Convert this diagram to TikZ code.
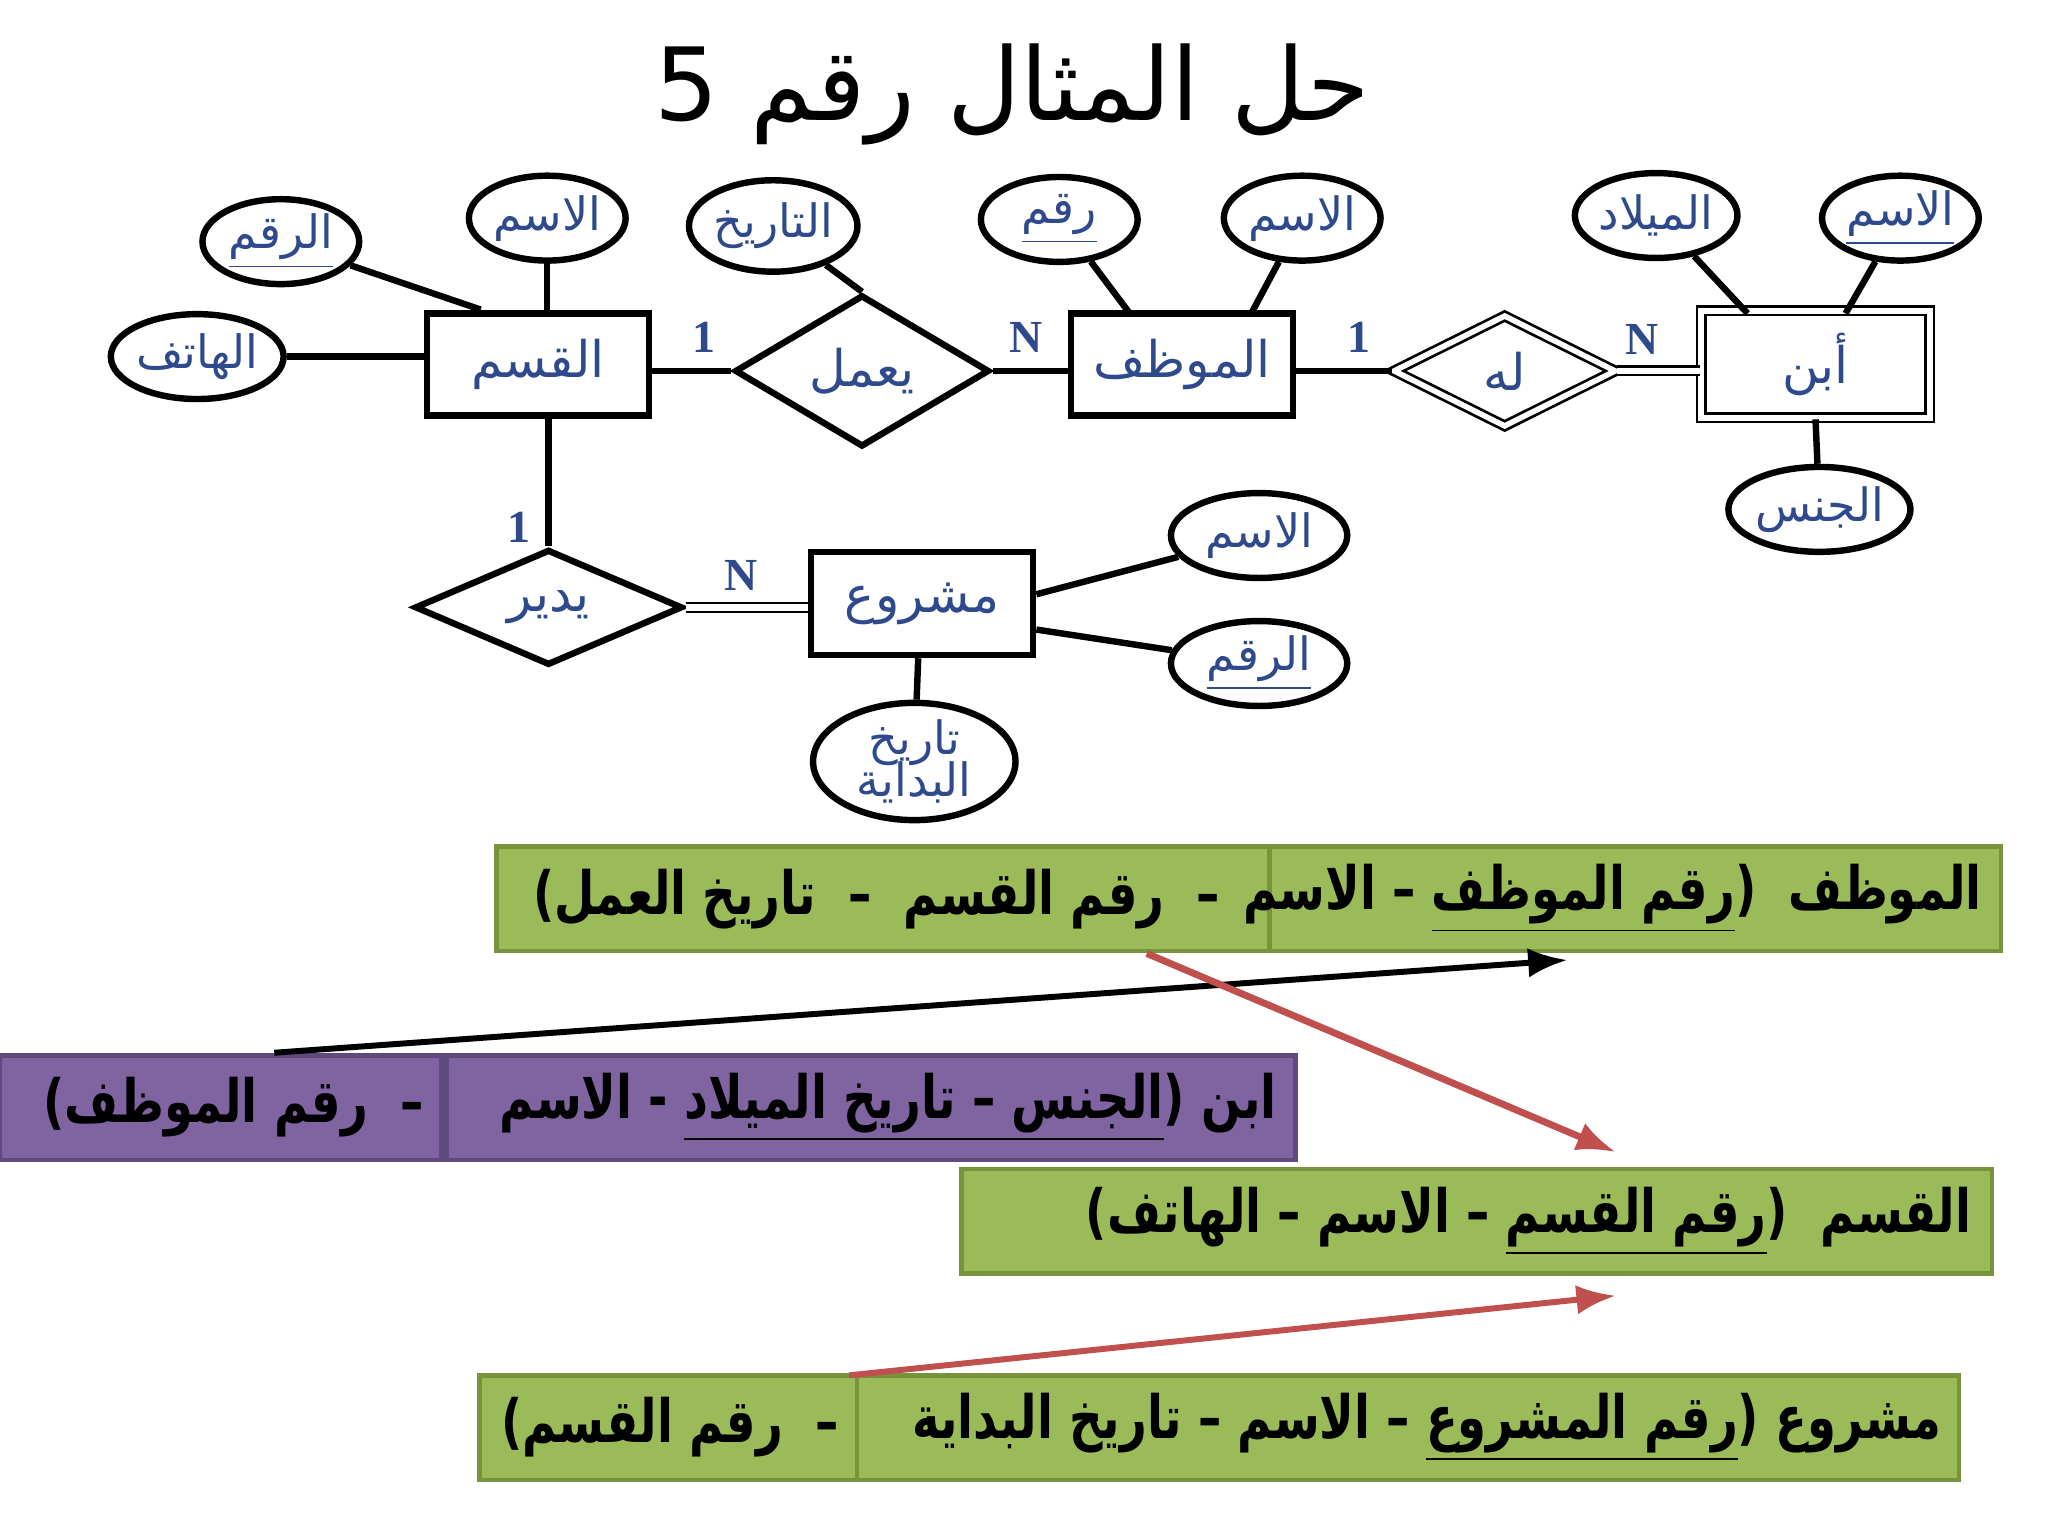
\documentclass[tikz,border=0pt]{standalone}
\usepackage{fontspec}
\usetikzlibrary{shapes.geometric,arrows.meta}
\TeXXeTstate=1
\newfontfamily\ar[Script=Arabic]{DejaVu Sans}
\newfontfamily\arb[Script=Arabic,FakeStretch=0.78]{DejaVu Sans Bold}
\setmainfont{Liberation Serif}
\newcommand{\AR}[1]{{\ar\beginR #1\endR}}
\newcommand{\ARB}[1]{{\arb\beginR #1\endR}}
\newcommand{\ulr}[1]{\underline{\hbox{\beginR #1\endR}}}
\definecolor{ertext}{HTML}{2E4A8C}
\definecolor{grn}{HTML}{9BBB59}
\definecolor{grnb}{HTML}{77933C}
\definecolor{pur}{HTML}{8064A2}
\definecolor{purb}{HTML}{5F4A7E}
\definecolor{redarr}{HTML}{C0504D}
\tikzset{
 ent/.style={draw,line width=1.4pt,minimum width=17mm,minimum height=7.8mm,text=ertext,font=\fontsize{11}{13}\selectfont},
 wk/.style={draw,double,double distance=1.2pt,line width=0.6pt,minimum width=17.5mm,minimum height=8.2mm,text=ertext,font=\fontsize{11}{13}\selectfont},
 rel/.style={diamond,draw,line width=1.4pt,inner sep=0,text=ertext,font=\fontsize{11}{13}\selectfont},
 att/.style={ellipse,draw,line width=1.4pt,inner sep=0,minimum width=12mm,minimum height=6.5mm,text=ertext,font=\fontsize{10}{11}\selectfont},
 ln/.style={line width=1.4pt},
 dl/.style={double,double distance=1.4pt,line width=0.5pt},
 card/.style={font=\bfseries\fontsize{10}{12}\selectfont,text=ertext},
 cellg/.style={draw=grnb,fill=grn,line width=1pt},
 cellp/.style={draw=purb,fill=pur,line width=1pt},
 rowtxt/.style={font=\fontsize{13}{16}\selectfont,anchor=east,inner sep=0}
}
\begin{document}
\begin{tikzpicture}[x=0.1mm,y=-0.1mm]
\useasboundingbox (0,0) rectangle (1568,1176);
\fill[white] (0,0) rectangle (1568,1176);
\node (title) at (775,72) {\fontsize{22}{26}\selectfont\AR{حل المثال رقم 5}};
% entities
\node[ent] (qsm) at (412,279) {\AR{القسم}};
\node[rel,minimum width=19.5mm,minimum height=8mm] (yamal) at (660,284) {\AR{يعمل}};
\node[ent] (mwz) at (905,279) {\AR{الموظف}};
\node[rel,double,double distance=1.2pt,line width=0.6pt,minimum width=17mm,minimum height=8.5mm] (lah) at (1152,284) {\AR{له}};
\node[wk] (ibn) at (1390,279) {\AR{أبن}};
\node[rel,minimum width=20.5mm,minimum height=8mm] (yudir) at (420,465) {\AR{يدير}};
\node[ent,minimum height=7.9mm] (msh) at (706,462) {\AR{مشروع}};
% attributes
\node[att] (a1) at (215,185) {\AR{\underline{الرقم}}};
\node[att] (a2) at (419,167) {\AR{الاسم}};
\node[att] (a3) at (151,273) {\AR{الهاتف}};
\node[att,minimum height=7mm] (a4) at (592,173) {\AR{التاريخ}};
\node[att] (a5) at (811,168) {\AR{\underline{رقم}}};
\node[att] (a6) at (997,167) {\AR{الاسم}};
\node[att] (a7) at (1268,165) {\AR{الميلاد}};
\node[att] (a8) at (1455,167) {\AR{\underline{الاسم}}};
\node[att] (a9) at (1393,390) {\AR{الجنس}};
\node[att,minimum width=13.5mm] (a10) at (964,410) {\AR{الاسم}};
\node[att,minimum width=13.5mm] (a11) at (964,508) {\AR{\underline{الرقم}}};
\node[att,minimum width=15.5mm,minimum height=8.5mm,align=center] (a12) at (700,583) {\AR{تاريخ}\\[-2pt]\AR{البداية}};
% connectors
\draw[ln] (a1) -- (368,237);
\draw[ln] (a2) -- (a2 |- qsm.north);
\draw[ln] (a3) -- (qsm.west |- a3);
\draw[ln] (qsm.east |- yamal) -- (yamal.west) node[card,pos=0.65,above] {1};
\draw[ln] (yamal.east) -- (mwz.west |- yamal) node[card,pos=0.45,above] {N};
\draw[ln] (a4) -- (yamal.north);
\draw[ln] (a5) -- (865,240);
\draw[ln] (a6) -- (958,240);
\draw[ln] (mwz.east |- lah) -- (lah.west) node[card,pos=0.65,above] {1};
\draw[dl] (lah.east) -- (ibn.west |- lah) node[card,pos=0.3,above] {N};
\draw[ln] (a7) -- (1338,240);
\draw[ln] (a8) -- (1413,240);
\draw[ln] (ibn.south) -- (a9);
\draw[ln] (qsm.south -| yudir) -- (yudir.north) node[card,pos=0.85,left] {1};
\draw[dl] (yudir.east) -- (msh.west |- yudir) node[card,pos=0.45,above] {N};
\draw[ln] (msh.east |- 0,455) -- (a10);
\draw[ln] (msh.east |- 0,482) -- (a11);
\draw[ln] (msh.south -| 703,0) -- (a12);
% tables
\draw[cellg] (380,648) rectangle (972,728);
\draw[cellg] (972,648) rectangle (1532,728);
\node[rowtxt] (r1b) at (1518,688) {\ARB{الموظف\ \ (\ulr{رقم الموظف} – الاسم}};
\node[rowtxt] (r1a) at (935,688) {\ARB{–\ \ رقم القسم\ \ –\ \ تاريخ العمل)}};
\draw[cellp] (0,808) rectangle (338,888);
\draw[cellp] (342,808) rectangle (992,888);
\node[rowtxt] (r2b) at (978,848) {\ARB{ابن (\ulr{الجنس – تاريخ الميلاد} - الاسم}};
\node[rowtxt] (r2a) at (325,848) {\ARB{–\ \ رقم الموظف)}};
\draw[cellg] (736,895) rectangle (1525,975);
\node[rowtxt] (r3) at (1510,935) {\ARB{القسم\ \ (\ulr{رقم القسم} – الاسم – الهاتف)}};
\draw[cellg] (367,1053) rectangle (656,1133);
\draw[cellg] (656,1053) rectangle (1500,1133);
\node[rowtxt] (r4b) at (1487,1093) {\ARB{مشروع (\ulr{رقم المشروع} – الاسم – تاريخ البداية}};
\node[rowtxt] (r4a) at (643,1093) {\ARB{–\ \ رقم القسم)}};
% arrows
\coordinate (p1) at (210,806); \coordinate (p2) at (1200,735);
\draw[line width=1.3pt,-{Latex[length=3mm]}] (p1) -- (p2);
\coordinate (p3) at (878,730); \coordinate (p4) at (1237,882);
\draw[redarr,line width=1.5pt,-{Latex[length=3mm]}] (p3) -- (p4);
\coordinate (p5) at (650,1053); \coordinate (p6) at (1237,992);
\draw[redarr,line width=1.3pt,-{Latex[length=3mm]}] (p5) -- (p6);
\end{tikzpicture}
\end{document}
